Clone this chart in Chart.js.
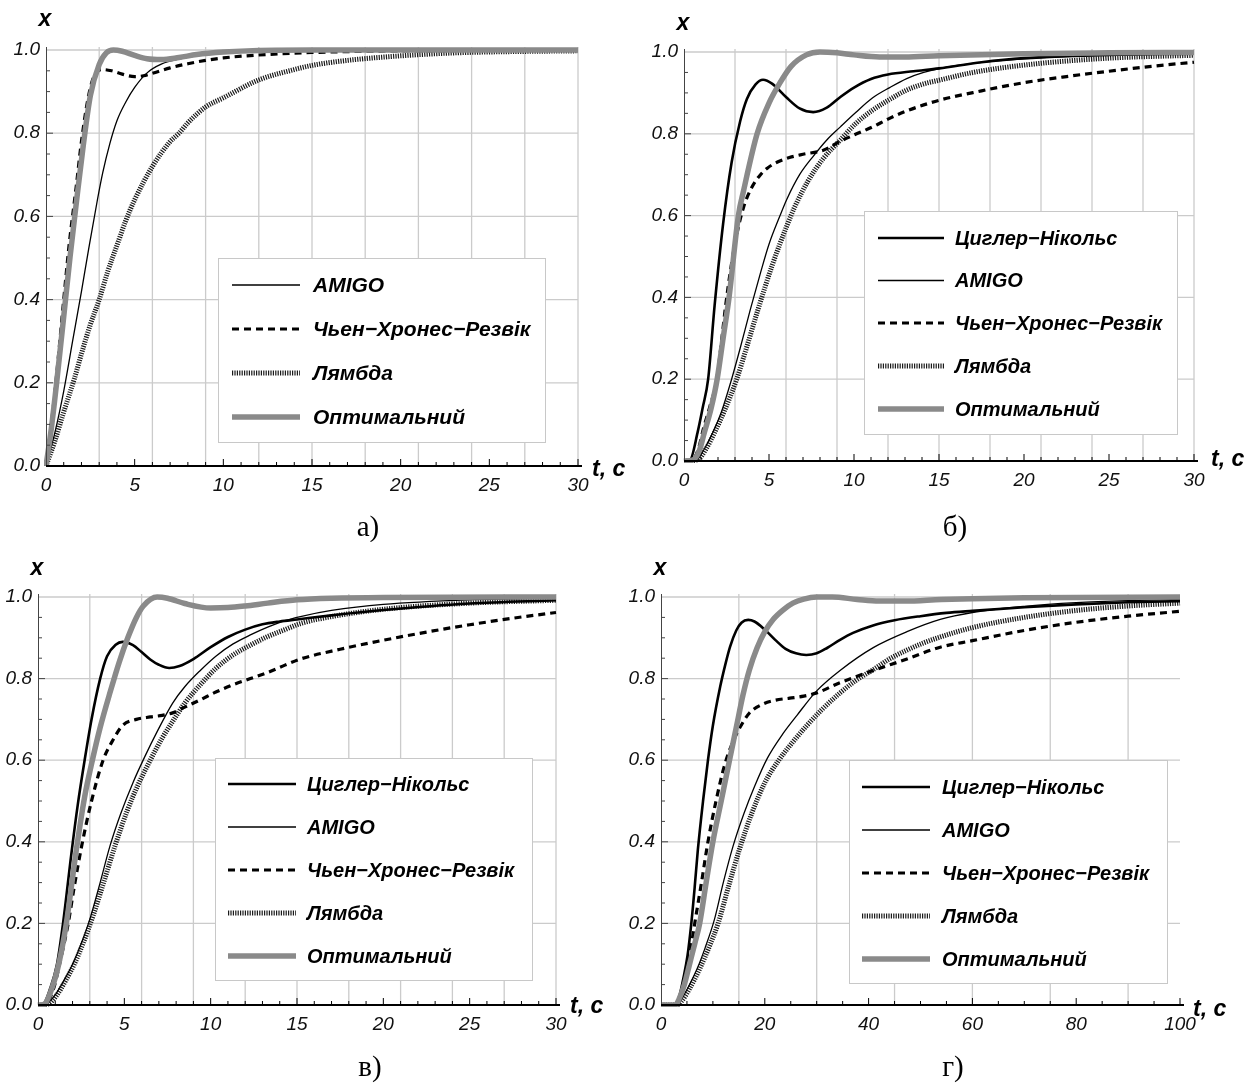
<!DOCTYPE html>
<html>
<head>
<meta charset="utf-8">
<script src="https://cdn.jsdelivr.net/npm/chart.js@4.4.0/dist/chart.umd.min.js"></script>
<style>
  html, body { margin: 0; padding: 0; background: #fff; }
  body { width: 1247px; height: 1084px; position: relative; overflow: hidden; }
  canvas { position: absolute; }
</style>
</head>
<body>
<canvas id="pa"></canvas>
<canvas id="pb"></canvas>
<canvas id="pc"></canvas>
<canvas id="pd"></canvas>
<script>
// series names (legend order)
const names = ['Циглер−Нікольс', 'AMIGO', 'Чьен−Хронес−Резвік', 'Лямбда', 'Оптимальний'];

// ---- panel а) ----  [t, x]
const aAmigo = [[0,0],[0.5,0.08],[1,0.18],[1.5,0.3],[2,0.42],[2.4,0.52],[2.9,0.64],[3.2,0.705],[3.6,0.775],[4,0.83],[4.5,0.875],[5,0.91],[5.7,0.945],[6.5,0.966],[7.5,0.978],[8.5,0.986],[10,0.993],[12,0.997],[15,0.999],[20,1],[30,1]];
const aChr = [[0,0],[0.3,0.1],[0.6,0.22],[1,0.4],[1.3,0.53],[1.7,0.67],[2,0.78],[2.4,0.89],[2.8,0.945],[3.2,0.953],[3.7,0.95],[4.3,0.942],[5,0.936],[5.5,0.938],[6,0.944],[7,0.957],[8,0.967],[9,0.975],[10,0.981],[12,0.988],[15,0.994],[20,0.998],[25,0.999],[30,1]];
const aLambda = [[0,0],[0.5,0.06],[1,0.13],[1.6,0.21],[2,0.27],[2.5,0.34],[3,0.4],[3.5,0.47],[4,0.53],[4.5,0.59],[5,0.64],[6,0.72],[7,0.78],[7.5,0.8],[8,0.825],[9,0.863],[10,0.885],[12,0.928],[14,0.953],[15,0.963],[17,0.975],[20,0.986],[23,0.993],[26,0.996],[30,0.998]];
const aOpt = [[0,0],[0.3,0.09],[0.6,0.2],[1.1,0.4],[1.35,0.5],[1.73,0.64],[2.1,0.77],[2.5,0.89],[3,0.965],[3.4,0.993],[3.8,1.0],[4.3,0.997],[5,0.987],[5.7,0.979],[6.5,0.977],[7.5,0.982],[8.5,0.989],[10,0.995],[12,0.999],[15,1],[30,1]];

// ---- panel б) ----
const bZn = [[0,0],[0.35,0.002],[0.8,0.07],[1.1,0.13],[1.42,0.2],[1.8,0.38],[2.3,0.58],[2.8,0.73],[3.3,0.83],[3.7,0.885],[4.2,0.92],[4.65,0.932],[5.2,0.922],[6,0.89],[6.8,0.862],[7.6,0.853],[8.4,0.864],[9.2,0.89],[10,0.913],[11,0.934],[12,0.945],[13.5,0.953],[15,0.96],[17.5,0.975],[20,0.985],[25,0.993],[30,0.996]];
const bAmigo = [[0,0],[0.75,0.003],[1.2,0.03],[1.7,0.07],[2.2,0.12],[2.8,0.2],[3.3,0.275],[3.9,0.37],[4.5,0.46],[5,0.53],[5.65,0.6],[6.05,0.64],[6.8,0.7],[7.6,0.745],[8.4,0.785],[9.2,0.817],[10.1,0.852],[11.1,0.888],[12.1,0.913],[13.1,0.935],[14.1,0.95],[15.1,0.96],[17,0.972],[20,0.983],[25,0.992],[30,0.996]];
const bChr = [[0,0],[0.5,0.003],[0.85,0.03],[1.15,0.08],[1.5,0.13],[1.93,0.2],[2.2,0.29],[2.45,0.38],[2.75,0.47],[3.06,0.545],[3.5,0.62],[4,0.67],[4.5,0.7],[4.9,0.716],[5.5,0.731],[6.2,0.742],[7,0.75],[8.2,0.76],[9.2,0.782],[10,0.797],[11.1,0.817],[12,0.836],[13.1,0.856],[15.1,0.883],[17.5,0.905],[20,0.925],[22.5,0.94],[25,0.953],[27.5,0.965],[30,0.975]];
const bLambda = [[0,0],[0.8,0.003],[1.3,0.03],[1.8,0.07],[2.4,0.125],[3.1,0.2],[3.7,0.28],[4.35,0.37],[5.2,0.48],[6.05,0.575],[6.5,0.62],[7.3,0.685],[8.2,0.74],[9.2,0.785],[10.1,0.825],[11.1,0.858],[12.1,0.884],[13.1,0.907],[14.1,0.922],[15.1,0.932],[17,0.95],[20,0.968],[25,0.985],[30,0.992]];
const bOpt = [[0,0],[0.55,0.003],[0.9,0.025],[1.2,0.07],[1.6,0.13],[1.95,0.2],[2.3,0.3],[2.65,0.4],[3.2,0.6],[3.5,0.66],[4.3,0.8],[5,0.875],[5.65,0.925],[6.3,0.965],[7.2,0.993],[8,1.0],[9,0.998],[10,0.993],[11.5,0.988],[13,0.988],[15,0.991],[20,0.996],[25,0.998],[30,0.999]];

// ---- panel в) ----
const cZn = [[0,0],[0.3,0.002],[0.7,0.04],[1.1,0.1],[1.45,0.2],[1.93,0.37],[2.3,0.49],[2.7,0.6],[3.1,0.7],[3.6,0.8],[4,0.855],[4.5,0.883],[4.9,0.89],[5.5,0.882],[6,0.865],[6.5,0.847],[7,0.834],[7.6,0.826],[8.2,0.831],[9,0.848],[10,0.877],[11,0.902],[12,0.92],[13,0.933],[14,0.94],[15,0.945],[17,0.955],[20,0.968],[25,0.984],[30,0.992]];
const cAmigo = [[0,0],[0.5,0.003],[1,0.025],[1.5,0.06],[2,0.1],[2.5,0.15],[3,0.21],[3.6,0.3],[4.17,0.39],[4.8,0.47],[5.5,0.545],[6.2,0.61],[6.9,0.67],[7.8,0.74],[8.5,0.78],[9.4,0.82],[10.3,0.855],[11.3,0.885],[12.3,0.907],[13.3,0.926],[14.3,0.942],[15.2,0.952],[17,0.967],[20,0.982],[25,0.993],[30,0.997]];
const cChr = [[0,0],[0.4,0.002],[0.9,0.04],[1.3,0.11],[1.75,0.2],[2.1,0.29],[2.53,0.39],[3.1,0.5],[3.77,0.6],[4.35,0.65],[4.9,0.685],[5.7,0.7],[6.5,0.706],[7.2,0.71],[7.8,0.716],[8.5,0.73],[9.4,0.748],[10.3,0.767],[11.3,0.785],[12.3,0.8],[13.3,0.815],[14.3,0.833],[15.2,0.848],[17.5,0.872],[20,0.894],[22.5,0.914],[25,0.932],[27.5,0.948],[30,0.962]];
const cLambda = [[0,0],[0.6,0.003],[1.1,0.025],[1.6,0.06],[2.1,0.1],[2.6,0.15],[3.2,0.22],[3.8,0.3],[4.46,0.39],[5.2,0.48],[5.8,0.54],[6.5,0.6],[7.2,0.655],[7.8,0.695],[8.5,0.74],[9.4,0.785],[10.3,0.825],[11.3,0.858],[12.3,0.882],[13.3,0.903],[14.3,0.92],[15.2,0.935],[17,0.952],[20,0.97],[25,0.985],[30,0.992]];
const cOpt = [[0,0],[0.35,0.002],[0.8,0.04],[1.2,0.1],[1.64,0.2],[2.22,0.38],[2.7,0.51],[3.15,0.6],[3.6,0.68],[4.2,0.77],[4.7,0.84],[5.2,0.9],[5.7,0.95],[6.1,0.978],[6.9,1.0],[7.5,0.997],[8.5,0.984],[10,0.973],[11,0.974],[12,0.978],[13.3,0.985],[15,0.993],[17,0.997],[20,0.999],[30,1]];

// ---- panel г) ----
const dZn = [[0,0],[2.8,0],[3.5,0.02],[4.3,0.065],[5.1,0.12],[5.84,0.2],[6.5,0.29],[7.1,0.38],[8.1,0.5],[9.05,0.6],[10,0.685],[11.4,0.78],[12.4,0.835],[13.3,0.878],[14.5,0.918],[15.5,0.937],[16.8,0.944],[18,0.94],[20,0.92],[22,0.895],[24,0.873],[26,0.862],[28,0.858],[30,0.862],[32,0.875],[34.5,0.895],[37,0.912],[41,0.931],[45,0.943],[50,0.953],[55,0.961],[60,0.966],[70,0.975],[80,0.982],[90,0.987],[100,0.99]];
const dAmigo = [[0,0],[3,0],[4,0.015],[5.5,0.05],[7,0.09],[8.5,0.14],[10.3,0.21],[12,0.3],[13.9,0.39],[16,0.47],[18,0.535],[20.5,0.605],[23.5,0.665],[26.2,0.71],[30,0.77],[34.5,0.82],[40.9,0.876],[47.4,0.915],[53.8,0.945],[60,0.962],[70,0.977],[80,0.986],[90,0.991],[100,0.994]];
const dChr = [[0,0],[2.8,0],[3.5,0.015],[4.5,0.05],[5.5,0.12],[6.5,0.2],[7.8,0.3],[9.05,0.4],[10.6,0.5],[12.3,0.59],[14.2,0.655],[15.2,0.68],[17,0.715],[19.7,0.738],[22,0.747],[24.8,0.752],[27.5,0.757],[30,0.765],[34.5,0.79],[40.9,0.82],[47.4,0.848],[53.8,0.877],[60,0.893],[70,0.918],[80,0.938],[90,0.953],[100,0.965]];
const dLambda = [[0,0],[3,0],[4,0.01],[5.5,0.04],[7.5,0.09],[9.2,0.14],[11,0.2],[13,0.29],[15.2,0.385],[17.5,0.47],[20,0.545],[22.7,0.6],[26.4,0.66],[28.1,0.685],[31,0.724],[34.5,0.765],[37.5,0.795],[40.9,0.822],[44,0.848],[47.4,0.87],[50.5,0.887],[53.8,0.902],[60,0.925],[70,0.95],[80,0.967],[90,0.978],[100,0.985]];
const dOpt = [[0,0],[2.8,0],[3.5,0.015],[4.5,0.05],[5.5,0.1],[6.5,0.15],[7.45,0.2],[8.7,0.3],[10,0.4],[11.6,0.5],[13.2,0.6],[14.5,0.68],[15.8,0.76],[17,0.82],[18.5,0.875],[20,0.915],[21.6,0.945],[23.5,0.968],[25.4,0.985],[27.5,0.995],[30,1.0],[33,1.0],[37.8,0.994],[42,0.99],[47,0.99],[54,0.994],[60,0.996],[70,0.998],[100,1]];

// line styles per method (index matches names)
const styles = [
  { borderColor: '#000', borderWidth: 2.6, order: 1 },
  { borderColor: '#000', borderWidth: 1.3, order: 2 },
  { borderColor: '#000', borderWidth: 3.2, borderDash: [7, 5], order: 3 },
  { borderColor: '#1a1a1a', borderWidth: 5, borderDash: [1.2, 1.2], order: 4 },
  { borderColor: '#8a8a8a', borderWidth: 5.5, order: 0 }
];

const SANS = '"Liberation Sans", Arial, sans-serif';

function series(idx, pts) {
  return Object.assign({
    label: names[idx],
    data: pts.map(([x, y]) => ({ x, y })),
    pointRadius: 0,
    fill: false,
    cubicInterpolationMode: 'monotone',
    clip: { left: 2, top: 6, right: 2, bottom: 2 }
  }, styles[idx]);
}

const panels = [
  { id: 'pa', ox: 0, oy: 0, w: 640, h: 542, area: { l: 46, t: 50, r: 578, b: 466 },
    xmax: 30, xStep: 5, grid: 3, minor: 1, caption: 'а)', cap: [368, 528],
    xlab: [45, 20], tlab: [592, 470],
    legend: { box: [218, 258, 545, 442], rows: [285, 329, 373, 417], s0: 232, s1: 300, tx: 313, size: 21 },
    sets: [series(1, aAmigo), series(2, aChr), series(3, aLambda), series(4, aOpt)] },
  { id: 'pb', ox: 640, oy: 0, w: 607, h: 542, area: { l: 684, t: 52, r: 1194, b: 461 },
    xmax: 30, xStep: 5, grid: 3, minor: 1, caption: 'б)', cap: [955, 528],
    xlab: [683, 24], tlab: [1211, 460],
    legend: { box: [864, 211, 1177, 434], rows: [238, 280.5, 323, 366, 409], s0: 878, s1: 944, tx: 955, size: 20 },
    sets: [series(0, bZn), series(1, bAmigo), series(2, bChr), series(3, bLambda), series(4, bOpt)] },
  { id: 'pc', ox: 0, oy: 542, w: 620, h: 542, area: { l: 38, t: 597, r: 556, b: 1005 },
    xmax: 30, xStep: 5, grid: 3, minor: 1, caption: 'в)', cap: [370, 1068],
    xlab: [37, 569], tlab: [570, 1007],
    legend: { box: [215, 758, 532, 980], rows: [784, 827, 870, 913, 956], s0: 228, s1: 296, tx: 307, size: 20 },
    sets: [series(0, cZn), series(1, cAmigo), series(2, cChr), series(3, cLambda), series(4, cOpt)] },
  { id: 'pd', ox: 620, oy: 542, w: 627, h: 542, area: { l: 661, t: 597, r: 1180, b: 1005 },
    xmax: 100, xStep: 20, grid: 15, minor: 5, caption: 'г)', cap: [953, 1068],
    xlab: [660, 569], tlab: [1193, 1010],
    legend: { box: [849, 760, 1167, 983], rows: [787, 830, 873, 916, 959], s0: 862, s1: 930, tx: 942, size: 20 },
    sets: [series(0, dZn), series(1, dAmigo), series(2, dChr), series(3, dLambda), series(4, dOpt)] }
];

function seg(ctx, x0, y0, x1, y1) {
  ctx.beginPath(); ctx.moveTo(x0, y0); ctx.lineTo(x1, y1); ctx.stroke();
}

const decor = {
  id: 'decor',
  beforeDatasetsDraw(chart, args, o) {
    const { ctx, chartArea: a, scales: { x, y } } = chart;
    ctx.save();
    ctx.strokeStyle = '#cbcbcb';
    ctx.lineWidth = 1.3;
    for (let v = o.grid; v <= x.max + 1e-9; v += o.grid) {
      const px = x.getPixelForValue(v);
      seg(ctx, px, a.top - 3, px, a.bottom);
    }
    for (let k = 1; k <= 5; k++) {
      const py = y.getPixelForValue(k * 0.2);
      seg(ctx, a.left, py, a.right, py);
    }
    ctx.restore();
  },
  afterDatasetsDraw(chart, args, o) {
    const { ctx, chartArea: a, scales: { x, y } } = chart;
    ctx.save();
    // axes
    ctx.strokeStyle = '#444'; ctx.lineWidth = 1;
    seg(ctx, a.left + 0.5, a.bottom, a.left + 0.5, a.top - 3);
    for (let k = 1; k < 20; k++) {
      const py = y.getPixelForValue(k * 0.05);
      seg(ctx, a.left, py, a.left + (k % 4 === 0 ? 7 : 4), py);
    }
    ctx.strokeStyle = '#000'; ctx.lineWidth = 2;
    seg(ctx, a.left, a.bottom, a.right + 4, a.bottom);
    ctx.lineWidth = 1;
    for (let v = o.minor; v <= x.max + 1e-9; v += o.minor) {
      const px = x.getPixelForValue(v);
      const major = Math.abs(v / o.xStep - Math.round(v / o.xStep)) < 1e-6;
      seg(ctx, px, a.bottom, px, a.bottom - (major ? 7 : 4));
    }
    // axis names
    ctx.fillStyle = '#000';
    ctx.font = 'italic bold 23px ' + SANS;
    ctx.textBaseline = 'middle';
    ctx.textAlign = 'center';
    ctx.fillText('x', o.xlab[0] - o.ox, o.xlab[1] - o.oy);
    ctx.textAlign = 'left';
    ctx.fillText('t, c', o.tlab[0] - o.ox, o.tlab[1] - o.oy);
    // legend
    const L = o.legend;
    const bx = L.box[0] - o.ox, by = L.box[1] - o.oy;
    const bw = L.box[2] - L.box[0], bh = L.box[3] - L.box[1];
    ctx.fillStyle = '#fff';
    ctx.fillRect(bx, by, bw, bh);
    ctx.strokeStyle = '#c8c8c8'; ctx.lineWidth = 1;
    ctx.strokeRect(bx + 0.5, by + 0.5, bw, bh);
    chart.data.datasets.forEach((ds, i) => {
      const ly = L.rows[i] - o.oy;
      ctx.strokeStyle = ds.borderColor;
      ctx.lineWidth = ds.borderWidth;
      ctx.setLineDash(ds.borderDash || []);
      seg(ctx, L.s0 - o.ox, ly, L.s1 - o.ox, ly);
      ctx.setLineDash([]);
      ctx.fillStyle = '#000';
      ctx.font = 'italic bold ' + L.size + 'px ' + SANS;
      ctx.textAlign = 'left';
      ctx.textBaseline = 'middle';
      ctx.fillText(ds.label, L.tx - o.ox, ly + 1);
    });
    // caption
    ctx.font = '29px "Liberation Serif", "Times New Roman", serif';
    ctx.textAlign = 'center';
    ctx.fillText(o.caption, o.cap[0] - o.ox, o.cap[1] - o.oy);
    ctx.restore();
  }
};

const YW = 36, XH = 36;
panels.forEach(p => {
  const cv = document.getElementById(p.id);
  cv.width = p.w; cv.height = p.h;
  cv.style.left = p.ox + 'px'; cv.style.top = p.oy + 'px';
  const tickFont = { family: SANS, size: 19, style: 'italic' };
  new Chart(cv, {
    type: 'line',
    data: { datasets: p.sets },
    options: {
      responsive: false,
      animation: false,
      events: [],
      layout: { padding: {
        left: p.area.l - p.ox - YW,
        top: p.area.t - p.oy,
        right: p.ox + p.w - p.area.r,
        bottom: p.oy + p.h - p.area.b - XH
      } },
      plugins: {
        legend: { display: false },
        tooltip: { enabled: false },
        decor: {
          ox: p.ox, oy: p.oy, grid: p.grid, minor: p.minor, xStep: p.xStep,
          caption: p.caption, cap: p.cap, xlab: p.xlab, tlab: p.tlab, legend: p.legend
        }
      },
      scales: {
        x: {
          type: 'linear', min: 0, max: p.xmax,
          border: { display: false },
          grid: { display: false, drawTicks: false },
          ticks: { stepSize: p.xStep, autoSkip: false, maxRotation: 0, padding: 8, color: '#111', font: tickFont,
                   callback: v => String(v) },
          afterFit: s => { s.height = XH; }
        },
        y: {
          type: 'linear', min: 0, max: 1,
          border: { display: false },
          grid: { display: false, drawTicks: false },
          ticks: { stepSize: 0.2, autoSkip: false, padding: 6, color: '#111', font: tickFont,
                   callback: v => v.toFixed(1) },
          afterFit: s => { s.width = YW; }
        }
      }
    },
    plugins: [decor]
  });
});
</script>
</body>
</html>
